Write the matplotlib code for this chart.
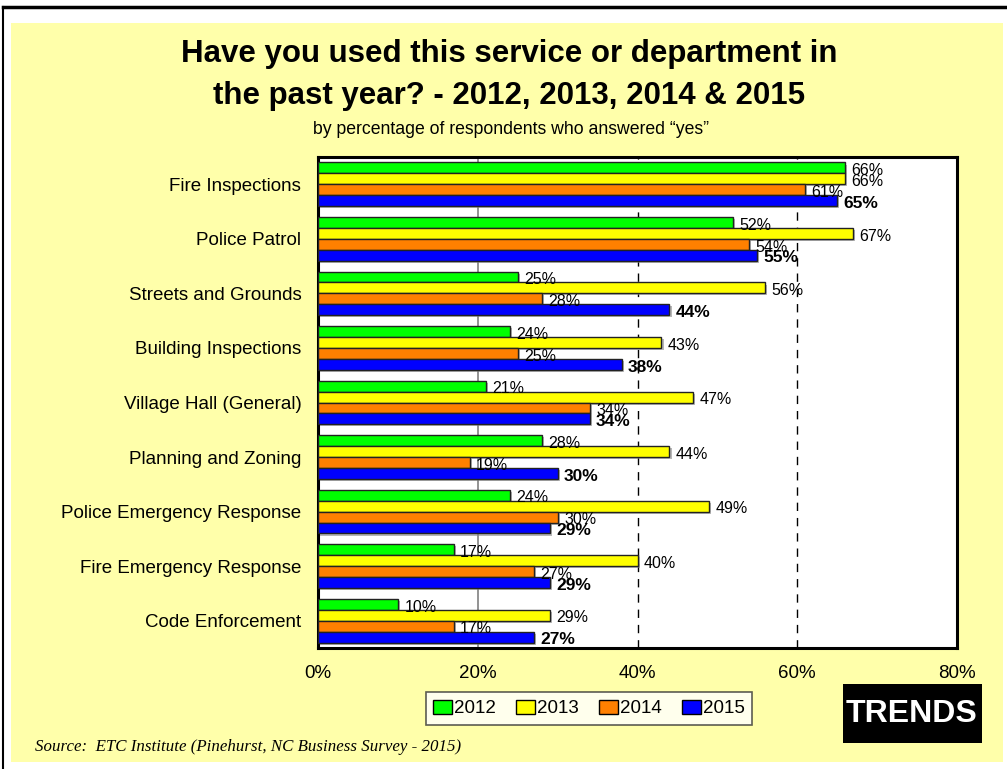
import matplotlib
matplotlib.use("Agg")
import matplotlib.pyplot as plt
import matplotlib.patheffects as pe
from matplotlib.patches import Rectangle, Patch
from matplotlib.lines import Line2D
import numpy as np

plt.rcParams['font.family'] = ['Liberation Sans', 'DejaVu Sans']

categories = [
    "Fire Inspections",
    "Police Patrol",
    "Streets and Grounds",
    "Building Inspections",
    "Village Hall (General)",
    "Planning and Zoning",
    "Police Emergency Response",
    "Fire Emergency Response",
    "Code Enforcement",
]
years = ["2012", "2013", "2014", "2015"]
vals_2012 = [66, 52, 25, 24, 21, 28, 24, 17, 10]
vals_2013 = [66, 67, 56, 43, 47, 44, 49, 40, 29]
vals_2014 = [61, 54, 28, 25, 34, 19, 30, 27, 17]
vals_2015 = [65, 55, 44, 38, 34, 30, 29, 29, 27]
x_ticks = [0, 20, 40, 60, 80]
x_tick_labels = ["0%", "20%", "40%", "60%", "80%"]

series = [vals_2012, vals_2013, vals_2014, vals_2015]
colors = ["#00FF00", "#FFFF00", "#FF8000", "#0000FF"]
panel_bg = "#FFFFAA"

W, H = 1007, 769
fig = plt.figure(figsize=(W / 100, H / 100), dpi=100)
fig.patch.set_facecolor("white")

# Outer frame lines and the yellow panel
fig.add_artist(Line2D([3 / W, 3 / W], [0, 1 - 7 / H], color="black", lw=1.5,
                      transform=fig.transFigure))
fig.add_artist(Line2D([3 / W, 1], [1 - 7 / H, 1 - 7 / H], color="black", lw=2.5,
                      transform=fig.transFigure))
fig.add_artist(Rectangle((11 / W, 1 - 762 / H), (1003 - 11) / W, (762 - 23) / H,
                         transform=fig.transFigure, facecolor=panel_bg,
                         edgecolor="none", zorder=0))

# Titles
fig.text(509 / W, 1 - 75 / H,
         "Have you used this service or department in\nthe past year? - 2012, 2013, 2014 & 2015",
         ha="center", va="center", fontsize=22.5, fontweight="bold",
         linespacing=1.5)
fig.text(511 / W, 1 - 130 / H, "by percentage of respondents who answered \u201cyes\u201d",
         ha="center", va="center", fontsize=12.7)

ax_left, ax_right = 318 / W, 957 / W
ax_top, ax_bottom = 1 - 157 / H, 1 - 648 / H
ax = fig.add_axes([ax_left, ax_bottom, ax_right - ax_left, ax_top - ax_bottom])
ax.set_facecolor("white")

n = len(categories)
y = np.arange(n)
bar_h = 0.2
shadow = [pe.SimplePatchShadow(offset=(1.5, -1.5), shadow_rgbFace="#888888", alpha=0.6),
          pe.Normal()]
for j, (vals, col) in enumerate(zip(series, colors)):
    ypos = y + (j - 1.5) * bar_h
    bars = ax.barh(ypos, vals, height=bar_h, color=col, edgecolor="#222222",
                   linewidth=1.0, zorder=3)
    for b in bars:
        b.set_path_effects(shadow)
    bold = (j == 3)
    for yy, v in zip(ypos, vals):
        ax.text(v + 0.8, yy + 0.05, f"{v}%", ha="left", va="center",
                fontsize=12.5 if bold else 11.5,
                fontweight="bold" if bold else "normal", zorder=5)

# Reference lines
ax.axvline(20, color="#808080", lw=1.2, zorder=1)
for xv in (40, 60):
    ax.axvline(xv, color="black", lw=1.0, linestyle=(0, (6, 5)), zorder=1)

ax.set_xlim(0, 80)
ax.set_ylim(n - 0.5, -0.5)
ax.set_yticks(y)
ax.set_yticklabels(categories, fontsize=13.5)
ax.set_xticks(x_ticks)
ax.set_xticklabels(x_tick_labels, fontsize=13.5)
ax.tick_params(axis="both", length=0)
ax.tick_params(axis="y", pad=12)
ax.tick_params(axis="x", pad=12)
for s in ax.spines.values():
    s.set_linewidth(2.2)
    s.set_color("black")

# Legend
handles = [Patch(facecolor=c, edgecolor="black", linewidth=1.0, label=yr)
           for c, yr in zip(colors, years)]
leg = fig.legend(handles=handles, loc="center", ncol=4,
                 bbox_to_anchor=(589 / W, 1 - 708.5 / H), frameon=True,
                 fontsize=13.5, handlelength=1.0, handleheight=0.8,
                 handletextpad=0.1, columnspacing=1.1, borderpad=0.4,
                 fancybox=False, edgecolor="#333333")
leg.get_frame().set_linewidth(1.2)

# Badge
fig.add_artist(Rectangle((843 / W, 1 - 743 / H), (982 - 843) / W, (743 - 684) / H,
                         transform=fig.transFigure, facecolor="black",
                         edgecolor="none", zorder=2))
fig.text(912 / W, 1 - 714 / H, "TRENDS", ha="center", va="center",
         fontsize=23, fontweight="bold", color="white", zorder=3)

# Source note
fig.text(35 / W, 1 - 747 / H,
         "Source:  ETC Institute (Pinehurst, NC Business Survey - 2015)",
         ha="left", va="center", fontsize=12.2, style="italic",
         family=["Liberation Serif", "DejaVu Serif"])

fig.savefig("out.png", dpi=100, facecolor=fig.get_facecolor())
